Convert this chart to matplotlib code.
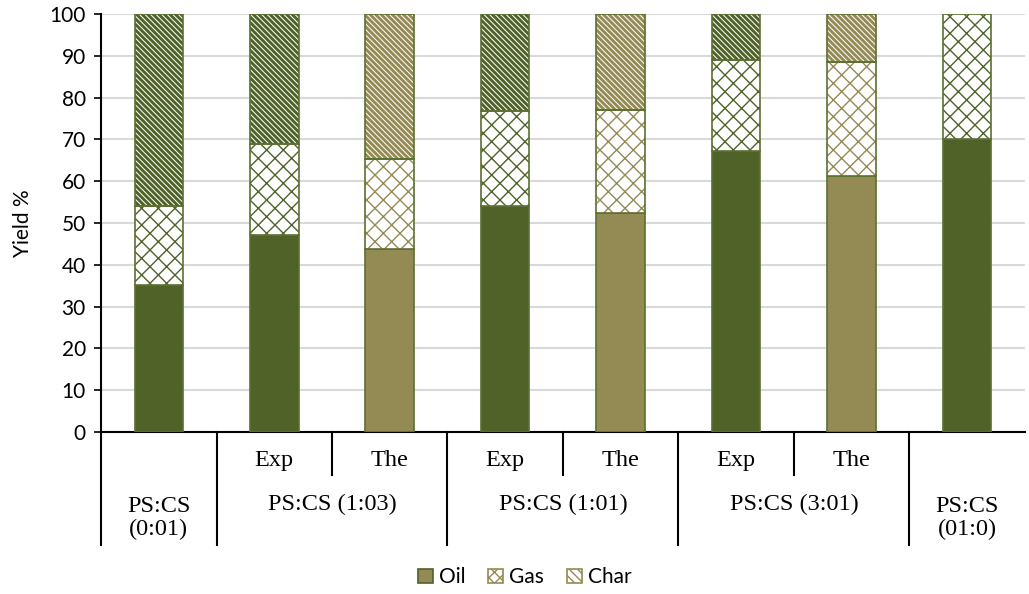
import matplotlib
matplotlib.use('Agg')
import matplotlib.pyplot as plt
import matplotlib.transforms as mtransforms
from matplotlib.patches import Patch
import numpy as np

# data
groups = ['PS:CS\n(0:01)', 'PS:CS (1:03)', 'PS:CS (1:01)', 'PS:CS (3:01)', 'PS:CS\n(01:0)']
sub_labels = ['', 'Exp', 'The', 'Exp', 'The', 'Exp', 'The', '']
kind = ['exp', 'exp', 'the', 'exp', 'the', 'exp', 'the', 'exp']
oil = [35.1, 47.1, 43.8, 54.1, 52.4, 67.2, 61.2, 70.1]
gas = [18.9, 21.8, 21.5, 22.7, 24.6, 21.8, 27.3, 29.9]
char = [46.0, 31.1, 34.7, 23.2, 23.0, 11.0, 11.5, 0.0]

dark = '#4F6228'
olive = '#948A54'
edge = '#5B7032'

plt.rcParams['font.family'] = ['Lato', 'DejaVu Sans']
plt.rcParams['hatch.linewidth'] = 1.0

fig = plt.figure(figsize=(10.29, 5.94), dpi=100)
ax = fig.add_axes([0.0982, 0.2727, 0.8978, 0.7037])

x = np.arange(len(oil))
w = 0.42
fills = [dark if k == 'exp' else olive for k in kind]

oil = np.array(oil)
gas = np.array(gas)
char = np.array(char)

ax.bar(x, oil, w, color=fills, edgecolor=edge, linewidth=1.2, zorder=3)

for i in range(len(x)):
    c = fills[i]
    # gas: cross hatch
    plt.rcParams['hatch.linewidth'] = 1.0
    ax.bar(x[i], gas[i], w, bottom=oil[i], color='white', edgecolor=c,
           hatch='xx', linewidth=0, zorder=3)
    if char[i] > 0:
        # char: thick diagonal stripes
        plt.rcParams['hatch.linewidth'] = 2.1
        ax.bar(x[i], char[i], w, bottom=oil[i] + gas[i], color='white', edgecolor=c,
               hatch='\\\\\\\\\\\\', linewidth=0, zorder=3)
    # outlines
    ax.bar(x[i], gas[i], w, bottom=oil[i], fill=False, edgecolor=edge,
           linewidth=1.2, zorder=4)
    if char[i] > 0:
        ax.bar(x[i], char[i], w, bottom=oil[i] + gas[i], fill=False, edgecolor=edge,
               linewidth=1.2, zorder=4)

ax.set_xlim(-0.5, 7.5)
ax.set_ylim(0, 100)
ax.set_yticks(np.arange(0, 101, 10))
ax.yaxis.grid(True, color='#D9D9D9', linewidth=1.5, zorder=0)
ax.set_axisbelow(True)
ax.tick_params(axis='y', labelsize=15, length=5, width=1.2, direction='out', pad=6)
ax.set_xticks([])
for s in ['top', 'right']:
    ax.spines[s].set_visible(False)
ax.spines['left'].set_linewidth(1.5)
ax.spines['bottom'].set_linewidth(1.5)
ax.set_ylabel('Yield %', fontsize=15, labelpad=12)

# multi level category axis
tr = mtransforms.blended_transform_factory(ax.transData, ax.transAxes)
long_y = -0.27
short_y = -0.103
for xv, yl in [(-0.5, long_y), (0.5, long_y), (1.5, short_y), (2.5, long_y),
               (3.5, short_y), (4.5, long_y), (5.5, short_y), (6.5, long_y)]:
    ax.plot([xv, xv], [0, yl], color='black', linewidth=1.5, transform=tr, clip_on=False)

for i, lab in enumerate(sub_labels):
    if lab:
        ax.text(x[i], -0.069, lab, transform=tr, ha='center', va='center',
                fontsize=17.5, family='Liberation Serif')

group_x = [0, 1.5, 3.5, 5.5, 7]
for gx, lab in zip(group_x, groups):
    ax.text(gx, -0.173 if '\n' not in lab else -0.206, lab, transform=tr, ha='center',
            va='center', fontsize=17.5, family='Liberation Serif', linespacing=1.15)

plt.rcParams['hatch.linewidth'] = 1.0
handles = [Patch(facecolor=olive, edgecolor=dark, linewidth=1.2, label='Oil'),
           Patch(facecolor='white', edgecolor=olive, hatch='xxx', linewidth=1.2, label='Gas'),
           Patch(facecolor='white', edgecolor=olive, hatch='\\\\\\\\', linewidth=1.2, label='Char')]
leg = fig.legend(handles=handles, loc='center', bbox_to_anchor=(0.51, 0.028), ncol=3,
                 frameon=False, fontsize=15, handlelength=0.7, handleheight=0.7,
                 handletextpad=0.3, columnspacing=1.1)

fig.savefig('out.png', dpi=100)
